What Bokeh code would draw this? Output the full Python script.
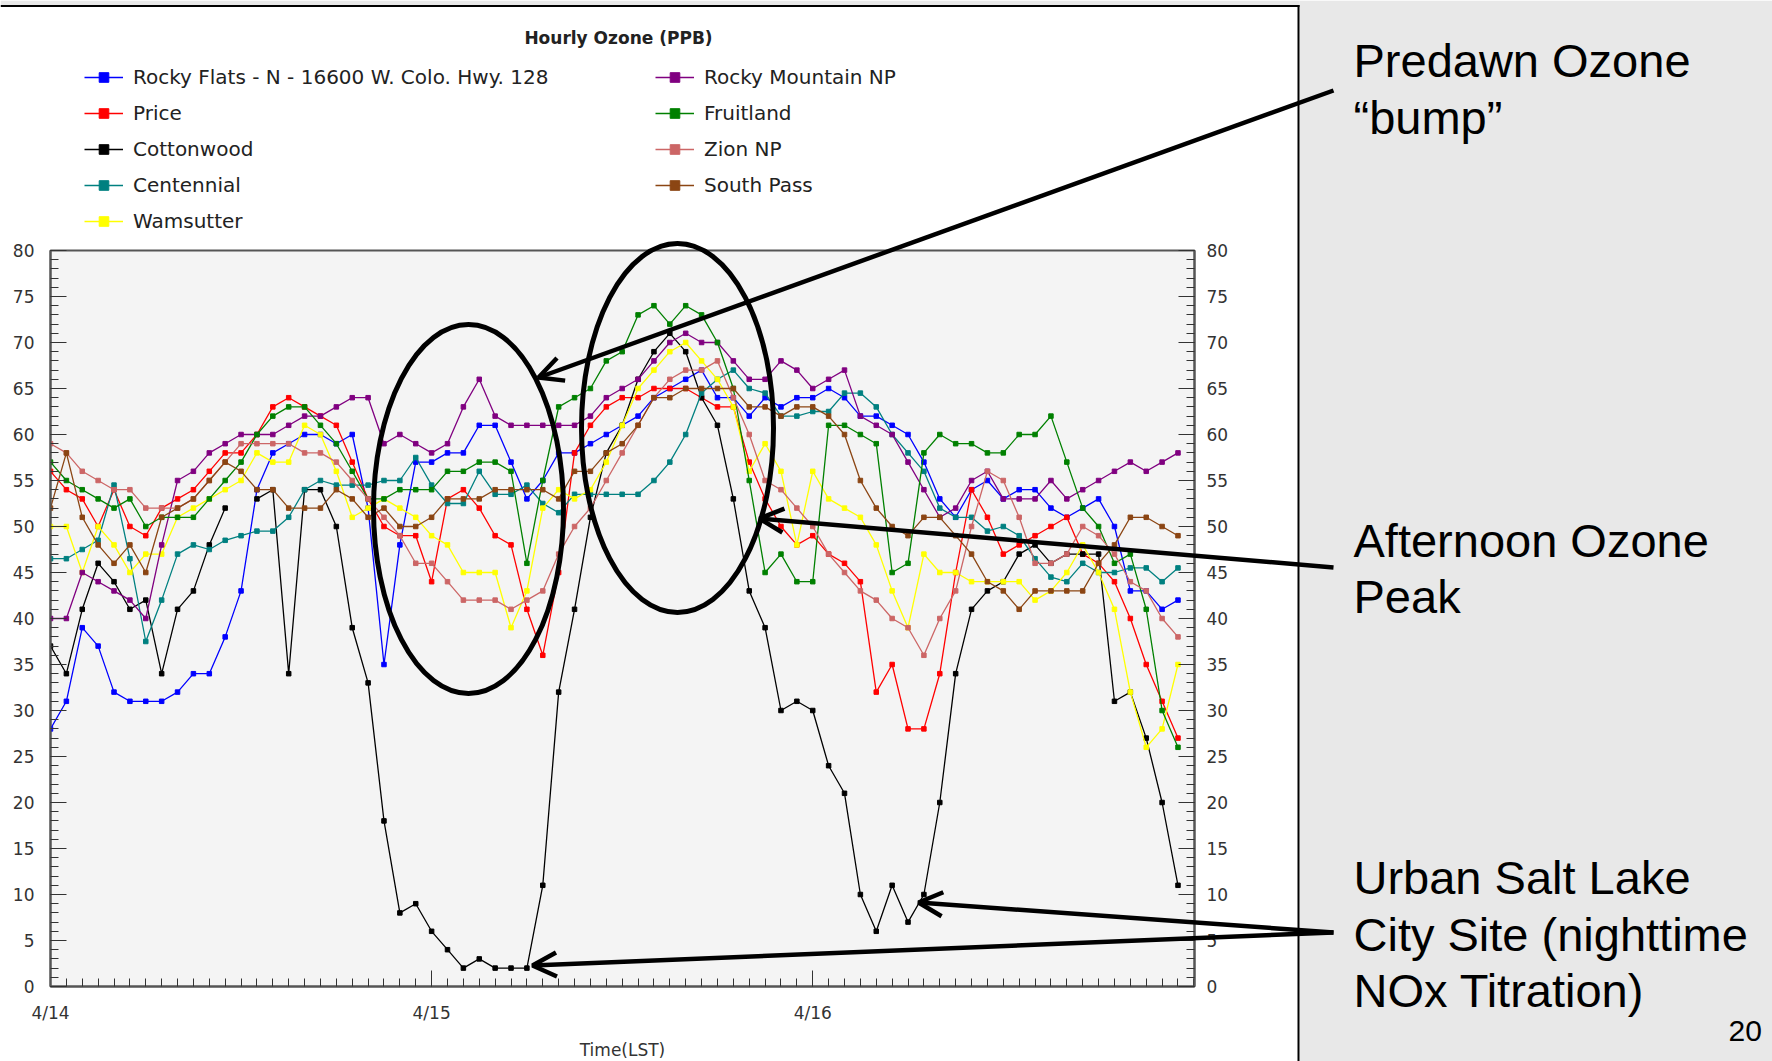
import numpy as np
from bokeh.plotting import figure
from bokeh.models import (Range1d, LinearAxis, FixedTicker, Legend, LegendItem, Label,
                          Arrow, OpenHead, ColumnDataSource)
from bokeh.embed import file_html
from bokeh.resources import INLINE

nan = float("nan")

# ---------------- data (hourly ozone, ppb) ----------------
hours = list(range(72))

rocky_flats = [28, 31, 39, 37, 32, 31, 31, 31, 32, 34, 34, 38, 43, 54, 58, 59, 60, 60, 59, 60,
               52, 35, 48, 57, 57, 58, 58, 61, 61, 57, 53, 55, 58, 58, 59, 60, 61, 62, 64, 65,
               66, 67, 64, 64, 62, 64, 63, 64, 64, 65, 64, 62, 62, 61, 60, 57, 53, 51, 54, 55,
               53, 54, 54, 52, 51, 52, 53, 50, 43, 43, 41, 42]
price = [56, 54, 53, 50, 54, 50, 49, 52, 53, 54, 56, 58, 58, 60, 63, 64, 63, 62, 61, 57,
         53, 50, 49, 49, 44, 53, 54, 52, 49, 48, 41, 36, 45, 58, 61, 63, 64, 64, 65, 65,
         65, 64, 63, 63, 57, 53, 50, 48, 49, 47, 46, 44, 32, 35, 28, 28, 34, 45, 54, 51,
         47, 48, 49, 50, 51, 47, 46, 44, 40, 35, 31, 27]
cottonwood = [37, 34, 41, 46, 44, 41, 42, 34, 41, 43, 48, 52, nan, 53, 54, 34, 54, 54, 50, 39,
              33, 18, 8, 9, 6, 4, 2, 3, 2, 2, 2, 11, 32, 41, 51, 58, 61, 66, 69, 71,
              69, 64, 61, 53, 43, 39, 30, 31, 30, 24, 21, 10, 6, 11, 7, 10, 20, 34, 41, 43,
              44, 47, 48, 46, 47, 47, 47, 31, 32, 27, 20, 11]
centennial = [46.5, 46.5, 47.5, 48.5, 54.5, 46.5, 37.5, 42, 47, 48, 47.5, 48.5, 49, 49.5, 49.5, 51, 54, 55, 54.5, 54.5,
              54.5, 55, 55, 57.5, 54.5, 52.5, 52.5, 56, 53.5, 53.5, 54.5, 52.5, 51.5, 53.5, 53.5, 53.5, 53.5, 53.5, 55, 57,
              60, 64.5, 66, 67, 65, 64.5, 62, 62, 62.5, 62.5, 64.5, 64.5, 63, 60, 58, 56, 52, 51, 51, 49.5,
              50, 49, 46.5, 44.5, 44, 46, 45, 45, 45.5, 45.5, 44, 45.5]
wamsutter = [50, 50, 45, 50, 48, 45, 47, 47, 51, 52, 53, 54, 55, 58, 57, 57, 61, 60, 56, 51,
             52, 53, 52, 51, 49, 48, 45, 45, 45, 39, 43, 52, 54, 53, 54, 57, 61, 65, 67, 69,
             70, 68, 66, 63, 56, 59, 56, 48, 56, 53, 52, 51, 48, 43, 39, 47, 45, 45, 44, 44,
             44, 44, 42, 43, 45, 48, 45, 41, 32, 26, 28, 35]
rocky_mountain_np = [40, 40, 45, 44, 43, 42, 40, 48, 55, 56, 58, 59, 60, 60, 60, 61, 62, 62, 63, 64,
                     64, 59, 60, 59, 58, 59, 63, 66, 62, 61, 61, 61, 61, 61, 62, 64, 65, 66, 68, 70,
                     71, 70, 70, 68, 66, 66, 68, 67, 65, 66, 67, 62, 61, 60, 57, 54, 51, 52, 55, 56,
                     53, 53, 53, 55, 53, 54, 55, 56, 57, 56, 57, 58]
fruitland = [57, 55, 54, 53, 52, 53, 50, 51, 51, 51, 53, 55, 57, 60, 62, 63, 63, 61, 59, 56,
             53, 53, 54, 54, 54, 56, 56, 57, 57, 56, 46, 55, 63, 64, 65, 68, 69, 73, 74, 72,
             74, 73, 70, 65, 55, 45, 47, 44, 44, 61, 61, 60, 59, 45, 46, 58, 60, 59, 59, 58,
             58, 60, 60, 62, 57, 52, 50, 46, 47, 41, 30, 26]
zion_np = [59, 58, 56, 55, 54, 54, 52, 52, 52, 53, 55, 57, 59, 59, 59, 59, 58, 58, 57, 55,
           53, 51, 49, 46, 46, 44, 42, 42, 42, 41, 42, 43, 47, 50, 52, 55, 58, 61, 64, 66,
           67, 67, 68, 64, 60, 55, 54, 52, 50, 47, 45, 43, 42, 40, 39, 36, 40, 43, 50, 56,
           55, 51, 46, 46, 47, 50, 49, 47, 44, 43, 40, 38]
south_pass = [52, 58, 51, 48, 46, 48, 45, 51, 52, 53, 55, 57, 56, 54, 54, 52, 52, 52, 54, 53,
              51, 52, 50, 50, 51, 53, 53, 53, 54, 54, 54, 54, 53, 56, 56, 58, 59, 61, 64, 64,
              65, 65, 65, 65, 63, 63, 62, 63, 63, 62, 60, 55, 52, 50, 49, 51, 51, 49, 47, 44,
              43, 41, 43, 43, 43, 43, 46, 48, 51, 51, 50, 49]

series_names = ["Rocky Flats - N - 16600 W. Colo. Hwy. 128", "Price", "Cottonwood", "Centennial",
                "Wamsutter", "Rocky Mountain NP", "Fruitland", "Zion NP", "South Pass"]
series_values = [rocky_flats, price, cottonwood, centennial, wamsutter,
                 rocky_mountain_np, fruitland, zion_np, south_pass]
series_colors = ["#0000ff", "#ff0000", "#000000", "#008080", "#ffff00",
                 "#800080", "#008000", "#cc6666", "#8b4513"]

y_ticks = [0, 5, 10, 15, 20, 25, 30, 35, 40, 45, 50, 55, 60, 65, 70, 75, 80]
day_ticks = [0, 24, 48]
day_labels = ["4/14", "4/15", "4/16"]

CHART_FONT = "DejaVu Sans"
NOTE_FONT = "Liberation Sans"
W, H = 1772, 1061

# ---------------- main chart ----------------
p = figure(frame_width=1144, frame_height=736,
           min_border_left=50, min_border_right=W - 50 - 1144, min_border_top=250,
           min_border_bottom=H - 250 - 736,
           x_range=Range1d(0, 72.04), y_range=Range1d(0, 80),
           output_backend="svg", toolbar_location=None,
           background_fill_color="#f4f4f4", border_fill_color="white",
           outline_line_color="#555555", outline_line_width=2)
p.grid.visible = False

right_axis = LinearAxis()
p.add_layout(right_axis, "right")
for ax, standoff in [(p.yaxis[0], 16), (right_axis, 12)]:
    ax.ticker = FixedTicker(ticks=y_ticks, minor_ticks=list(range(0, 81)))
    ax.major_tick_in = 16
    ax.major_tick_out = 0
    ax.minor_tick_in = 8
    ax.minor_tick_out = 0
    ax.major_label_standoff = standoff
    ax.major_label_text_font = CHART_FONT
    ax.major_label_text_font_size = "17px"
    ax.major_label_text_color = "#333333"
    ax.axis_line_color = "#555555"
    ax.axis_line_width = 2
    ax.major_tick_line_color = "#333333"
    ax.minor_tick_line_color = "#333333"

xa = p.xaxis[0]
xa.ticker = FixedTicker(ticks=day_ticks, minor_ticks=list(range(0, 73)))
xa.major_label_overrides = {t: lab for t, lab in zip(day_ticks, day_labels)}
xa.major_tick_in = 16
xa.major_tick_out = 0
xa.minor_tick_in = 8
xa.minor_tick_out = 0
xa.major_label_standoff = 16
xa.major_label_text_font = CHART_FONT
xa.major_label_text_font_size = "17px"
xa.major_label_text_color = "#333333"
xa.axis_line_color = "#555555"
xa.axis_line_width = 2
xa.major_tick_line_color = "#333333"
xa.minor_tick_line_color = "#333333"
xa.axis_label = "Time(LST)"
xa.axis_label_text_font = CHART_FONT
xa.axis_label_text_font_size = "17px"
xa.axis_label_text_font_style = "normal"
xa.axis_label_text_color = "#333333"
xa.axis_label_standoff = 14

for name, vals, col in zip(series_names, series_values, series_colors):
    src = ColumnDataSource(dict(x=hours, y=vals))
    p.line("x", "y", source=src, line_color=col, line_width=1.3)
    p.scatter("x", "y", source=src, marker="square", size=4.5, fill_color=col, line_color=col)

# ---------------- transparent overlay in page pixels (slide annotations) ----------------
ov = figure(width=W, height=H, x_range=Range1d(0, W), y_range=Range1d(H, 0),
            x_axis_type=None, y_axis_type=None, toolbar_location=None, output_backend="svg",
            min_border=0, min_border_left=0, min_border_right=0, min_border_top=0, min_border_bottom=0,
            background_fill_alpha=0, border_fill_alpha=0, outline_line_color=None)
ov.styles = {"position": "absolute", "top": "0px", "left": "0px"}

# grey slide background at right and top, with the chart panel border
ov.quad(left=[1299, 0], right=[W, 1299], top=[0, 0], bottom=[H, 4.5],
        fill_color="#e8e8e8", line_color=None)
ov.segment(x0=[1298, 0], y0=[4.5, 5.5], x1=[1298, 1299], y1=[H, 5.5],
           line_color="black", line_width=2)

# legend (two columns) drawn with legend-only glyphs in the series' colours
leg_renderers = {}
for name, col in zip(series_names, series_colors):
    r1 = ov.line(x=[nan, nan], y=[nan, nan], line_color=col, line_width=1.3)
    r2 = ov.scatter(x=[nan], y=[nan], marker="square", size=4.5, fill_color=col, line_color=col)
    leg_renderers[name] = [r1, r2]


def make_legend(names, page_x, page_top):
    n = len(names)
    item_h, gap = 24, 12
    height = n * item_h + (n - 1) * gap
    lg = Legend(items=[LegendItem(label=nm, renderers=leg_renderers[nm]) for nm in names],
                location=(page_x, H - (page_top + height)),
                glyph_width=39, glyph_height=item_h, label_height=item_h, label_standoff=10,
                spacing=gap, padding=0, margin=0,
                border_line_alpha=0, background_fill_alpha=0,
                label_text_font=CHART_FONT, label_text_font_size="20px",
                label_text_color="#222222")
    ov.add_layout(lg, "center")


make_legend(series_names[:5], 84, 64.8)
make_legend(series_names[5:], 655, 64.8)

ov.add_layout(Label(x=618, y=37, text="Hourly Ozone (PPB)", text_font=CHART_FONT,
                    text_font_size="17px", text_font_style="bold", text_align="center",
                    text_baseline="middle", text_color="#222222"))

# ellipses around the predawn bump and afternoon peak
ov.ellipse(x=[468, 677], y=[508.5, 427.5], width=[190, 192], height=[369, 369],
           fill_alpha=0, line_color="black", line_width=5)

# arrows
for x0, y0, x1, y1 in [(1333, 90, 538, 377), (1333, 567, 759, 518),
                       (1333, 932, 532, 965), (1333, 932, 918, 902)]:
    ov.add_layout(Arrow(x_start=x0, y_start=y0, x_end=x1, y_end=y1,
                        line_color="black", line_width=4.5,
                        end=OpenHead(size=24, line_width=4.5, line_color="black")))

for txt, ypage in [("Predawn Ozone", 60), ("\u201cbump\u201d", 117),
                   ("Afternoon Ozone", 540), ("Peak", 596),
                   ("Urban Salt Lake", 877), ("City Site (nighttime", 934), ("NOx Titration)", 990)]:
    ov.add_layout(Label(x=1353, y=ypage, text=txt, text_font=NOTE_FONT, text_font_size="47px",
                        text_baseline="middle", text_color="black"))
ov.add_layout(Label(x=1728, y=1030, text="20", text_font=NOTE_FONT, text_font_size="30px",
                    text_baseline="middle", text_color="black"))

open("out.html", "w").write(file_html([p, ov], INLINE))
